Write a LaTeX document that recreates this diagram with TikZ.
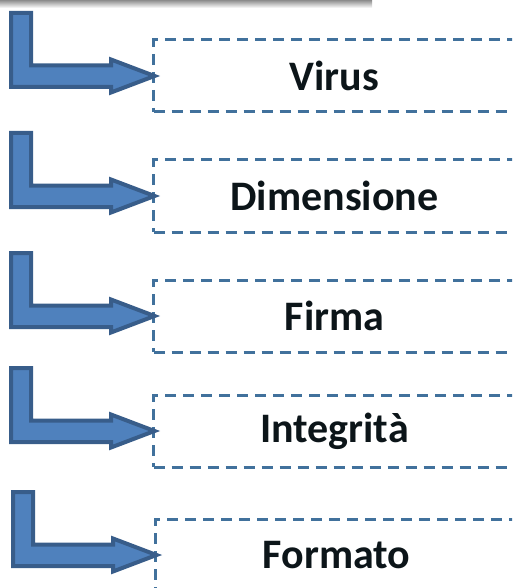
\documentclass[tikz,border=0pt]{standalone}
\usepackage{fontspec}
\setmainfont{Carlito}
\usepackage{tikz}
\usetikzlibrary{positioning,calc}
\usepackage{xcolor}
\definecolor{arrowfill}{HTML}{4F81BD}
\definecolor{arrowline}{HTML}{385D8A}
\definecolor{boxline}{HTML}{41719C}
\definecolor{textcol}{HTML}{0C1519}

\begin{document}
\begin{tikzpicture}[x=1pt, y=-1pt,
    checkbox/.style={draw=boxline, line width=3pt, dash pattern=on 11pt off 7pt,
      minimum width=362pt, minimum height=72pt, anchor=west, inner sep=0pt,
      font=\fontsize{42}{50}\selectfont\bfseries, text=textcol},
    bentarrow/.pic={
      \draw[draw=arrowline, fill=arrowfill, line width=4pt, line join=miter]
        (-146,-63) -- (-126,-63) -- (-126,-10.5) -- (-46,-10.5) -- (-46,-16.5)
        -- (-2.5,0) -- (-46,16.5) -- (-46,11) -- (-146,11) -- cycle;
    }]
  \useasboundingbox (0,0) rectangle (512,588);
  \clip (0,0) rectangle (512,588);
  % shadow of the bar above
  \shade[top color=black!45, bottom color=white] (0,0) rectangle (372,8);

  \node[checkbox] (virus)   at (152,76)  {Virus};
  \node[checkbox] (dimens)  at (152,196) {Dimensione};
  \node[checkbox] (firma)   at (152,316) {Firma};
  \node[checkbox] (integr)  at (152,431) {Integrità};
  \node[checkbox] (formato) at (154,555) {Formato};

  \foreach \b in {virus,dimens,firma,integr,formato}
    \pic at ($(\b.west)+(5,0)$) {bentarrow};
\end{tikzpicture}
\end{document}
